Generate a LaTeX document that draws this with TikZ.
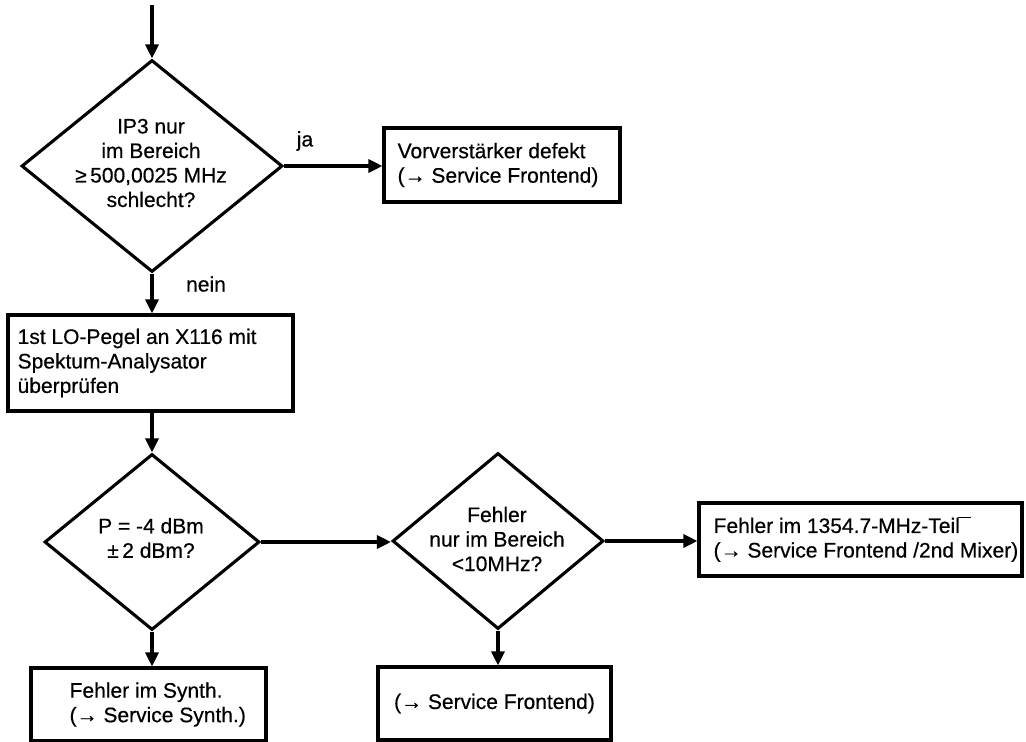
\documentclass[tikz,border=0pt]{standalone}
\usepackage{fontspec}
\setmainfont{Liberation Sans}[FakeBold=0.5]
\usetikzlibrary{shapes.geometric,arrows.meta}
\tikzset{
  lw/.style={line width=3.1pt},
  box/.style={draw, lw, rectangle, inner sep=0pt},
  dia/.style={draw, lw, diamond, inner sep=0pt},
  txt/.style={font=\fontsize{21}{24.5}\selectfont, inner sep=0pt},
  arr/.style={lw, -{Triangle[length=14pt,width=13pt]}},
}
\begin{document}
\begin{tikzpicture}[x=1pt,y=-1pt]
\useasboundingbox (0,0) rectangle (1026,742);
% decisions
\node[dia, minimum width=261pt, minimum height=212pt] (d1) at (152,166) {};
\node[txt, align=center] (t1) at (151,163) {IP3 nur\\im Bereich\\≥\,500,0025 MHz\\schlecht?};
\node[dia, minimum width=215pt, minimum height=176pt] (d2) at (152,542) {};
\node[txt, align=center] (t2) at (151,538) {P = -4 dBm\\±\,2 dBm?};
\node[dia, minimum width=211pt, minimum height=176pt] (d3) at (498,541) {};
\node[txt, align=center] (t3) at (497,539) {Fehler\\nur im Bereich\\<10MHz?};
% boxes
\node[box, minimum width=236pt, minimum height=74pt] (b1) at (502,165) {};
\node[txt, align=left, anchor=west] (tb1) at ([xshift=15pt]b1.west) {Vorverstärker defekt\\(→ Service Frontend)};
\node[box, minimum width=285pt, minimum height=96pt] (b2) at (150.5,363) {};
\node[txt, align=left, anchor=west] (tb2) at ([xshift=11pt]b2.west) {1st LO-Pegel an X116 mit\\Spektum-Analysator\\überprüfen};
\node[box, minimum width=323pt, minimum height=73pt] (b4) at (860.5,539.5) {};
\node[txt, align=left, anchor=west] (tb4) at ([xshift=16pt]b4.west) {Fehler im 1354.7-MHz-Teil\kern-1.5pt\rlap{\rule[14.5pt]{13pt}{1.3pt}}\\(→ Service Frontend /2nd Mixer)};
\node[box, minimum width=235pt, minimum height=73pt] (b5) at (148.5,704.5) {};
\node[txt, align=left, anchor=west] (tb5) at ([xshift=40pt]b5.west) {Fehler im Synth.\\(→ Service Synth.)};
\node[box, minimum width=233pt, minimum height=73pt] (b6) at (494.5,703.5) {};
\node[txt] (tb6) at (b6.center) {(→ Service Frontend)};
% labels
\node[txt] (lja) at (305,141) {ja};
\node[txt] (lnein) at (206,284) {nein};
% connectors
\coordinate (s) at (152,5);
\draw[arr] (s) -- (d1.north);
\draw[arr] (d1.east) -- (d1.east -| b1.west);
\draw[arr] (d1.south) -- (d1.south |- b2.north);
\draw[arr] (b2.south -| d2.north) -- (d2.north);
\draw[arr] (d2.east) -- (d2.east -| d3.west);
\draw[arr] (d3.east) -- (d3.east -| b4.west);
\draw[arr] (d2.south) -- (d2.south |- b5.north);
\draw[arr] (d3.south) -- (d3.south |- b6.north);
\end{tikzpicture}
\end{document}
